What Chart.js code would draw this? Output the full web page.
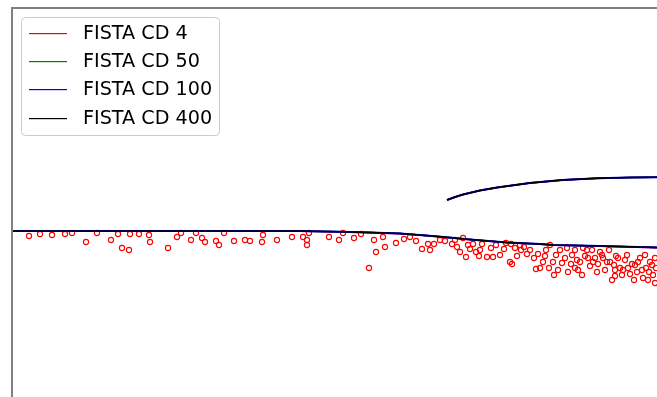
<!DOCTYPE html>
<html lang="en">
<head>
    <meta charset="UTF-8">
    <title>FISTA CD</title>
    <script src="https://cdn.jsdelivr.net/npm/chart.js"></script>
    <style>
        body { margin: 0; background: #fff; overflow: hidden; }
    </style>
</head>
<body>
    <canvas id="fistaChart" width="657" height="397"></canvas>

    <script>
        // series labels and colours
        const labels = ['FISTA CD 4', 'FISTA CD 50', 'FISTA CD 100', 'FISTA CD 400'];
        const colors = ['#ff0000', '#008000', '#0000ff', '#000000'];

        // lower curve
        const mainX = [0, 100, 200, 288, 328, 358, 388, 414, 432, 458, 495, 528, 542, 588, 645];
        const main4 = [0, 0, 0, -0.2, -0.9, -1.6, -2.6, -4.6, -6.2, -8.6, -11.6, -13.2, -14, -15.1, -16.6];
        const main50 = [0, 0, 0, -0.3, -0.8, -1.5, -2.5, -4.5, -6.1, -8.5, -11.5, -13.1, -14.2, -15, -16.5];
        const main100 = [0, 0, 0, -0.1, -0.7, -1.5, -2.6, -4.5, -6, -8.6, -11.5, -13, -14.1, -15.1, -16.5];
        const main400 = [0, 0, 0, 0, -0.7, -1.5, -2.5, -4.5, -6, -8.5, -11.5, -13, -14, -15, -16.5];

        // upper branch
        const branchX = [435, 443, 451, 468, 485, 518, 551, 585, 618, 645];
        const branch4 = [31, 33.8, 36.4, 40.6, 43.4, 48.1, 51.1, 52.6, 53.5, 53.7];
        const branch50 = [31, 34, 36.5, 40.5, 43.5, 48, 51, 52.7, 53.5, 53.7];
        const branch100 = [31, 34, 36.5, 40.5, 43.5, 48, 51, 52.7, 53.5, 53.7];
        const branch400 = [31, 34, 36.5, 40.5, 43.5, 48, 51, 52.7, 53.5, 53.7];

        // red scatter of FISTA CD 4 below the curve
        const dotsX = [17, 28, 40, 53, 60, 74, 85, 99, 106, 110, 117, 118, 127, 137, 138, 156, 165, 169, 179, 184,
            190, 193, 204, 207, 212, 222, 233, 238, 250, 251, 265, 280, 291, 295, 295, 297, 317, 327, 331, 342,
            349, 357, 364, 362, 371, 373, 384, 392, 398, 404, 410, 416, 418, 422, 428, 433, 440, 445, 451, 454,
            458, 461, 464, 468, 470, 475, 479, 484, 492, 498, 499, 500, 505, 508, 509, 515, 522, 524, 528, 533,
            534, 538, 541, 542, 546, 548, 553, 556, 559, 563, 566, 568, 571, 573, 576, 578, 580, 583, 586, 588,
            591, 593, 598, 600, 603, 604, 608, 610, 613, 616, 618, 623, 625, 628, 631, 634, 636, 638, 641, 643,
            443, 448, 456, 467, 481, 488, 494, 503, 512, 518, 526, 531, 537, 544, 550, 555, 560, 565, 570, 575,
            581, 585, 590, 595, 597, 602, 606, 611, 615, 620, 622, 626, 630, 633, 637, 640, 643, 644, 603, 563];
        const dotsY = [-5, -3, -4, -3, -2, -11, -2, -9, -3, -17, -19, -3, -3, -4, -11, -17, -6, -2, -9, -2,
            -7, -11, -10, -14, -2, -10, -9, -10, -11, -4, -9, -6, -6, -9, -14, -2, -6, -9, -2, -7,
            -3, -37, -21, -9, -6, -16, -12, -8, -6, -10, -18, -13, -19, -13, -9, -10, -13, -16, -7, -26,
            -18, -13, -21, -19, -13, -26, -17, -14, -18, -31, -13, -33, -25, -14, -19, -23, -27, -38, -37, -25,
            -19, -14, -31, -44, -39, -19, -27, -41, -33, -19, -39, -31, -17, -25, -27, -35, -19, -27, -33, -21,
            -27, -39, -31, -49, -39, -25, -37, -44, -29, -37, -43, -34, -41, -27, -47, -37, -49, -31, -44, -27,
            -9, -21, -14, -25, -26, -24, -12, -17, -16, -19, -23, -31, -37, -24, -32, -17, -24, -29, -44, -19,
            -31, -41, -24, -31, -19, -34, -27, -39, -24, -33, -49, -31, -39, -24, -41, -34, -52, -37, -45, -37];

        function lineData(ys, bys) {
            const pts = mainX.map((x, i) => ({ x: x, y: ys[i] }));
            pts.push({ x: 645, y: null });
            branchX.forEach((x, i) => pts.push({ x: x, y: bys[i] }));
            return pts;
        }

        const series = [[main4, branch4], [main50, branch50], [main100, branch100], [main400, branch400]];
        const widths = [1.6, 1.6, 2, 1.6];

        const datasets = [{
            label: 'dots',
            data: dotsX.map((x, i) => ({ x: x, y: dotsY[i] })),
            showLine: false,
            pointRadius: 2.6,
            pointBorderWidth: 1.1,
            pointBorderColor: '#ff0000',
            pointBackgroundColor: 'rgba(0,0,0,0)',
            order: 10
        }];
        series.forEach((s, i) => {
            datasets.push({
                label: labels[i],
                data: lineData(s[0], s[1]),
                borderColor: colors[i],
                borderWidth: widths[i],
                pointRadius: 0,
                spanGaps: false,
                tension: 0,
                order: 4 - i
            });
        });

        // matplotlib style legend box + left/top spines
        const mplLegend = {
            id: 'mplLegend',
            afterDraw(chart) {
                const ctx = chart.ctx;
                const area = chart.chartArea;
                ctx.save();
                ctx.strokeStyle = '#808080';
                ctx.lineWidth = 2;
                ctx.beginPath();
                ctx.moveTo(area.left, chart.height + 5);
                ctx.lineTo(area.left, area.top);
                ctx.lineTo(chart.width + 5, area.top);
                ctx.stroke();

                ctx.fillStyle = 'rgba(255,255,255,0.8)';
                ctx.strokeStyle = '#cccccc';
                ctx.lineWidth = 1;
                ctx.beginPath();
                ctx.roundRect(21.5, 17.5, 198, 118, 4);
                ctx.fill();
                ctx.stroke();

                ctx.font = '19.2px "DejaVu Sans"';
                ctx.textBaseline = 'middle';
                labels.forEach((name, i) => {
                    const y = Math.round(33 + i * 28.2);
                    ctx.fillStyle = colors[i];
                    ctx.fillRect(29, y, 38, 1.2);
                    ctx.fillStyle = '#000';
                    ctx.fillText(name, 83, y + 1);
                });
                ctx.restore();
            }
        };

        const ctx = document.getElementById('fistaChart').getContext('2d');
        new Chart(ctx, {
            type: 'line',
            data: { datasets: datasets },
            options: {
                responsive: false,
                animation: false,
                layout: { autoPadding: false, padding: { left: 12, top: 8, right: 0, bottom: 0 } },
                plugins: { legend: { display: false }, tooltip: { enabled: false } },
                scales: {
                    x: { type: 'linear', display: false, min: 0, max: 645 },
                    y: { type: 'linear', display: false, min: -166, max: 223 }
                }
            },
            plugins: [mplLegend]
        });
    </script>
</body>
</html>
